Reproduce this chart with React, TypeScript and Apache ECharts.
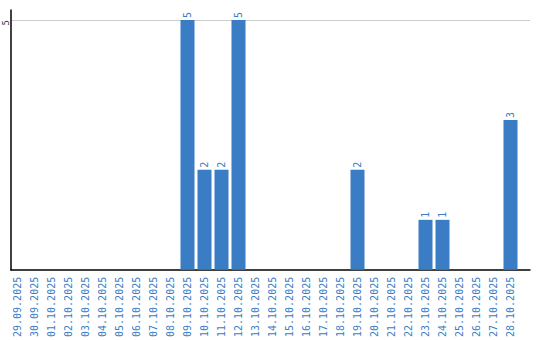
import React, { useEffect, useRef } from "react";
import * as echarts from "echarts";

const categories = [
  "29.09.2025", "30.09.2025", "01.10.2025", "02.10.2025", "03.10.2025",
  "04.10.2025", "05.10.2025", "06.10.2025", "07.10.2025", "08.10.2025",
  "09.10.2025", "10.10.2025", "11.10.2025", "12.10.2025", "13.10.2025",
  "14.10.2025", "15.10.2025", "16.10.2025", "17.10.2025", "18.10.2025",
  "19.10.2025", "20.10.2025", "21.10.2025", "22.10.2025", "23.10.2025",
  "24.10.2025", "25.10.2025", "26.10.2025", "27.10.2025", "28.10.2025",
];
const values = [
  0, 0, 0, 0, 0, 0, 0, 0, 0, 0,
  5, 2, 2, 5, 0, 0, 0, 0, 0, 0,
  2, 0, 0, 0, 1, 1, 0, 0, 0, 3,
];
const yMax = 5.2;
const yInterval = 5;

const BLUE = "#3b7dc4";
const FONT = "DejaVu Sans Mono";

export default function App() {
  const ref = useRef<HTMLDivElement>(null);
  useEffect(() => {
    if (!ref.current) return;
    document.body.style.margin = "0";
    const chart = echarts.init(ref.current, null, { renderer: "svg" });
    chart.setOption({
      animation: false,
      grid: [
        { left: 9, right: 21, top: 10, bottom: 70 },
        { left: 11, right: 10, top: 10, bottom: 70 },
      ],
      xAxis: [
        {
          type: "category",
          gridIndex: 0,
          data: categories,
          axisLine: { show: false },
          axisTick: { show: false },
          axisLabel: {
            rotate: 90,
            interval: 0,
            color: BLUE,
            fontFamily: FONT,
            fontSize: 10,
            margin: 7,
          },
        },
        {
          type: "value",
          gridIndex: 1,
          min: 0,
          max: 1,
          axisLine: { show: true, onZero: false, lineStyle: { color: "#000", width: 1.5 } },
          axisTick: { show: false },
          axisLabel: { show: false },
          splitLine: { show: false },
        },
      ],
      yAxis: [
        {
          type: "value",
          gridIndex: 0,
          min: 0,
          max: yMax,
          interval: yInterval,
          axisLine: { show: false },
          axisTick: { show: false },
          axisLabel: { show: false },
          splitLine: { show: false },
        },
        {
          type: "value",
          gridIndex: 1,
          min: 0,
          max: yMax,
          interval: yInterval,
          axisLine: { show: true, lineStyle: { color: "#000", width: 1.5 } },
          axisTick: { show: false },
          axisLabel: {
            rotate: 90,
            color: "#333",
            fontFamily: FONT,
            fontSize: 9,
            margin: 5,
            align: "right",
            verticalAlign: "middle",
            showMaxLabel: false,
            showMinLabel: false,
            hideOverlap: false,
          },
          splitLine: {
            show: true,
            showMinLine: false,
            showMaxLine: false,
            lineStyle: { color: "#cccccc", width: 1 },
          },
        },
      ],
      series: [
        {
          type: "bar",
          xAxisIndex: 0,
          yAxisIndex: 0,
          data: values.map((v) => (v === 0 ? null : v)),
          barWidth: 14,
          itemStyle: { color: BLUE },
          label: {
            show: true,
            position: "top",
            rotate: 90,
            align: "left",
            verticalAlign: "middle",
            distance: 2,
            color: BLUE,
            fontFamily: FONT,
            fontSize: 10,
          },
        },
      ],
    });
    return () => chart.dispose();
  }, []);
  return <div ref={ref} style={{ width: 540, height: 340 }} />;
}
